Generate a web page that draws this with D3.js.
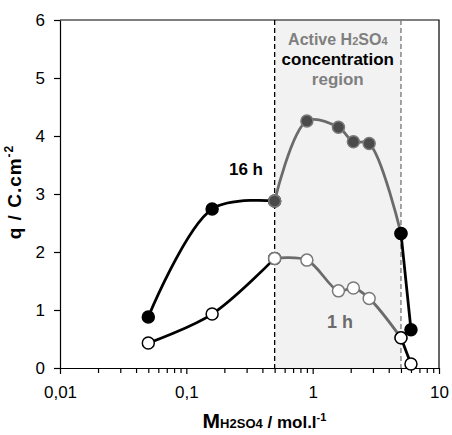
<!DOCTYPE html>
<html>
<head>
<meta charset="utf-8">
<script src="https://cdn.jsdelivr.net/npm/d3@7"></script>
<style>
  body { margin: 0; background: #fff; }
  svg text { font-family: "Liberation Sans", Arial, Helvetica, sans-serif; }
</style>
</head>
<body>
<div id="chart"></div>
<script>
// data
const concentrations = [0.05, 0.16, 0.5, 0.9, 1.6, 2.1, 2.8, 5, 6];
const charge16h = [0.88, 2.74, 2.88, 4.26, 4.15, 3.90, 3.87, 2.32, 0.66];
const charge1h = [0.43, 0.93, 1.89, 1.86, 1.33, 1.38, 1.20, 0.52, 0.07];
const activeRange = [0.5, 5];
const xTicks = [0.01, 0.1, 1, 10];
const xTickLabels = ["0,01", "0,1", "1", "10"];
const yTicks = [0, 1, 2, 3, 4, 5, 6];

// set the dimensions and margins of the graph
const margin = { top: 20, right: 13, bottom: 67, left: 60 },
    width = 452 - margin.left - margin.right,
    height = 435 - margin.top - margin.bottom;

const svg = d3.select("#chart")
    .append("svg")
    .attr("width", width + margin.left + margin.right)
    .attr("height", height + margin.top + margin.bottom)
    .append("g")
    .attr("transform", `translate(${margin.left},${margin.top})`);

const x = d3.scaleLog().domain([0.01, 10]).range([0, width]);
const y = d3.scaleLinear().domain([0, 6]).range([height, 0]);

const gray = "#6b6b6b";

// shaded active region
svg.append("rect")
    .attr("x", x(activeRange[0]))
    .attr("y", 0)
    .attr("width", x(activeRange[1]) - x(activeRange[0]))
    .attr("height", height)
    .attr("fill", "#f2f2f2");

// frame (top and right)
svg.append("path")
    .attr("d", `M0,0H${width}V${height}`)
    .attr("fill", "none")
    .attr("stroke", "#000")
    .attr("stroke-width", 1.2);

// x axis with log minor ticks
const minor = [];
for (let e = -2; e < 1; e++) for (let m = 2; m <= 9; m++) minor.push(m * Math.pow(10, e));
svg.append("g")
    .attr("transform", `translate(0,${height})`)
    .call(d3.axisBottom(x).tickValues(minor).tickSize(5).tickFormat(""))
    .call(g => g.select(".domain").remove());
const xAxis = svg.append("g")
    .attr("transform", `translate(0,${height})`)
    .call(d3.axisBottom(x).tickValues(xTicks).tickSize(6).tickSizeOuter(0).tickPadding(12)
        .tickFormat((d, i) => xTickLabels[i]));
xAxis.selectAll("text").style("font-size", "17px").attr("fill", "#000");

// y axis
const yAxis = svg.append("g")
    .call(d3.axisLeft(y).tickValues(yTicks).tickSize(6).tickSizeOuter(0).tickPadding(9)
        .tickFormat(d3.format("d")));
yAxis.selectAll("text").style("font-size", "17px").attr("fill", "#000");
svg.selectAll(".domain, .tick line").attr("stroke-width", 1.2);

// dashed region borders
svg.append("line")
    .attr("x1", x(activeRange[0])).attr("x2", x(activeRange[0]))
    .attr("y1", 0).attr("y2", height)
    .attr("stroke", "#000").attr("stroke-width", 1.3).attr("stroke-dasharray", "5,3");
svg.append("line")
    .attr("x1", x(activeRange[1])).attr("x2", x(activeRange[1]))
    .attr("y1", 0).attr("y2", height)
    .attr("stroke", "#777").attr("stroke-width", 1.3).attr("stroke-dasharray", "5,3");

// series split in three pieces: black / gray (active region) / black
const pieces = [
    { from: 0, to: 2, color: "#000" },
    { from: 2, to: 7, color: gray },
    { from: 7, to: 8, color: "#000" }
];
const line = d3.line()
    .x(d => x(d[0]))
    .y(d => y(d[1]))
    .curve(d3.curveCatmullRom.alpha(0.5));

function drawSeries(values, filled) {
    const pts = concentrations.map((c, i) => [c, values[i]]);
    pieces.forEach(p => {
        const seg = pts.slice(p.from, p.to + 1);
        svg.append("path")
            .datum(seg)
            .attr("d", line)
            .attr("fill", "none")
            .attr("stroke", p.color)
            .attr("stroke-width", 2.8);
        const inRegion = p.color !== "#000";
        svg.append("g")
            .selectAll("circle")
            .data(seg)
            .join("circle")
            .attr("cx", d => x(d[0]))
            .attr("cy", d => y(d[1]))
            .attr("r", 6)
            .attr("fill", filled ? (inRegion ? "#4a4a4a" : "#000") : "#fff")
            .attr("stroke", inRegion ? "#7a7a7a" : "#000")
            .attr("stroke-width", 1.5);
    });
}
drawSeries(charge1h, false);
drawSeries(charge16h, true);

// labels
svg.append("text")
    .attr("x", 186).attr("y", 155)
    .attr("text-anchor", "middle")
    .style("font-size", "17px").style("font-weight", "bold")
    .text("16 h");
svg.append("text")
    .attr("x", 280).attr("y", 308)
    .attr("text-anchor", "middle")
    .style("font-size", "18px").style("font-weight", "bold")
    .attr("fill", gray)
    .text("1 h");

const regionX = (x(activeRange[0]) + x(activeRange[1])) / 2;
const t1 = svg.append("text")
    .attr("x", regionX).attr("y", 25)
    .attr("text-anchor", "middle")
    .style("font-size", "16px").style("font-weight", "bold")
    .attr("fill", "#7f7f7f");
t1.append("tspan").text("Active H");
t1.append("tspan").style("font-size", "11px").text("2");
t1.append("tspan").text("SO");
t1.append("tspan").style("font-size", "11px").text("4");
svg.append("text")
    .attr("x", regionX).attr("y", 45)
    .attr("text-anchor", "middle")
    .style("font-size", "17px").style("font-weight", "bold")
    .text("concentration");
svg.append("text")
    .attr("x", regionX).attr("y", 65)
    .attr("text-anchor", "middle")
    .style("font-size", "17px").style("font-weight", "bold")
    .attr("fill", "#7f7f7f")
    .text("region");

// axis titles
const yt = svg.append("text")
    .attr("transform", `translate(-39,${height / 2 - 2}) rotate(-90)`)
    .attr("text-anchor", "middle")
    .style("font-size", "19px").style("font-weight", "bold")
    .style("letter-spacing", "1px");
yt.append("tspan").text("q / C.cm");
yt.append("tspan").attr("dy", "-8").style("font-size", "12px").text("-2");

const xt = svg.append("text")
    .attr("x", width / 2 + 15).attr("y", height + 60)
    .attr("text-anchor", "middle")
    .style("font-weight", "bold");
xt.append("tspan").style("font-size", "21px").text("M");
xt.append("tspan").style("font-size", "13px").text("H2SO4");
xt.append("tspan").style("font-size", "17px").text(" / mol.l");
xt.append("tspan").attr("dy", "-7").style("font-size", "11px").text("-1");
</script>
</body>
</html>
